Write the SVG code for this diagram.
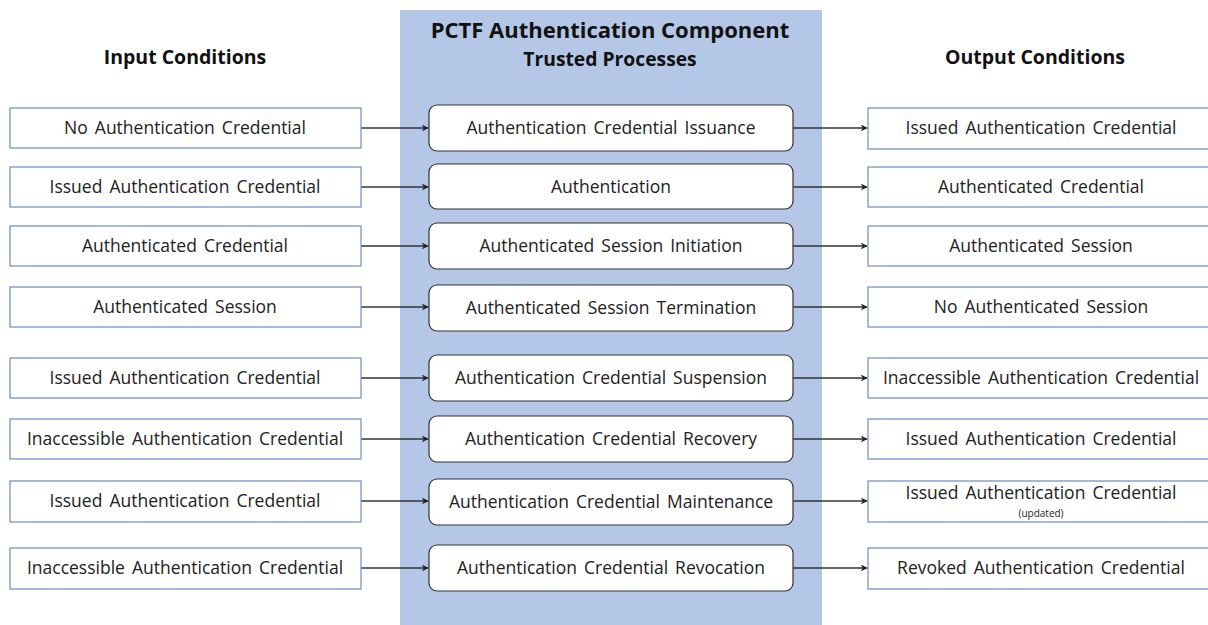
<svg xmlns="http://www.w3.org/2000/svg" width="1208" height="625" viewBox="0 0 1208 625">
<style>
.t{font-family:"Open Sans","Liberation Sans",sans-serif;font-size:17.5px;word-spacing:2.5px;fill:#222;text-anchor:middle;dominant-baseline:central}
.h{font-family:"Open Sans","Liberation Sans",sans-serif;font-weight:bold;fill:#111;text-anchor:middle}
.io{fill:#fff;stroke:#6d8cc4;stroke-width:1.2}
.p{fill:#fff;stroke:#333;stroke-width:1.2}
.c{stroke:#333;stroke-width:1.3;fill:none;marker-end:url(#ah)}
</style>
<defs>
<marker id="ah" viewBox="0 0 10 10" refX="9" refY="5" markerWidth="7" markerHeight="7" markerUnits="userSpaceOnUse" orient="auto">
<path d="M0,0 L10,5 L0,10 L3,5 Z" fill="#222"/>
</marker>
</defs>
<rect width="1208" height="625" fill="#fff"/>
<rect id="panel" x="400" y="10" width="422" height="615" fill="#b4c7e7"/>
<text class="h" x="610" y="38" font-size="22">PCTF Authentication Component</text>
<text class="h" x="610" y="66" font-size="19.3">Trusted Processes</text>
<text class="h" x="185" y="64" font-size="19.5">Input Conditions</text>
<text class="h" x="1035" y="64" font-size="19.5">Output Conditions</text>

<g id="connectors">
<line class="c" x1="361" y1="128" x2="428" y2="128"/>
<line class="c" x1="361" y1="187" x2="428" y2="187"/>
<line class="c" x1="361" y1="246" x2="428" y2="246"/>
<line class="c" x1="361" y1="307" x2="428" y2="307"/>
<line class="c" x1="361" y1="378" x2="428" y2="378"/>
<line class="c" x1="361" y1="439" x2="428" y2="439"/>
<line class="c" x1="361" y1="501" x2="428" y2="501"/>
<line class="c" x1="361" y1="568" x2="428" y2="568"/>
<line class="c" x1="793" y1="128" x2="867" y2="128"/>
<line class="c" x1="793" y1="187" x2="867" y2="187"/>
<line class="c" x1="793" y1="246" x2="867" y2="246"/>
<line class="c" x1="793" y1="307" x2="867" y2="307"/>
<line class="c" x1="793" y1="378" x2="867" y2="378"/>
<line class="c" x1="793" y1="439" x2="867" y2="439"/>
<line class="c" x1="793" y1="501" x2="867" y2="501"/>
<line class="c" x1="793" y1="568" x2="867" y2="568"/>
</g>

<g id="in1"><rect class="io" x="10" y="108" width="351" height="40"/><text class="t" x="185" y="127">No Authentication Credential</text></g>
<g id="in2"><rect class="io" x="10" y="167" width="351" height="40"/><text class="t" x="185" y="186">Issued Authentication Credential</text></g>
<g id="in3"><rect class="io" x="10" y="226" width="351" height="40"/><text class="t" x="185" y="245">Authenticated Credential</text></g>
<g id="in4"><rect class="io" x="10" y="287" width="351" height="40"/><text class="t" x="185" y="306">Authenticated Session</text></g>
<g id="in5"><rect class="io" x="10" y="358" width="351" height="40"/><text class="t" x="185" y="377">Issued Authentication Credential</text></g>
<g id="in6"><rect class="io" x="10" y="419" width="351" height="40"/><text class="t" x="185" y="438">Inaccessible Authentication Credential</text></g>
<g id="in7"><rect class="io" x="10" y="481" width="351" height="41"/><text class="t" x="185" y="500">Issued Authentication Credential</text></g>
<g id="in8"><rect class="io" x="10" y="548" width="351" height="41"/><text class="t" x="185" y="567">Inaccessible Authentication Credential</text></g>

<g id="p1"><rect class="p" x="429" y="105" width="364" height="46" rx="8"/><text class="t" x="611" y="127">Authentication Credential Issuance</text></g>
<g id="p2"><rect class="p" x="429" y="164" width="364" height="45" rx="8"/><text class="t" x="611" y="186">Authentication</text></g>
<g id="p3"><rect class="p" x="429" y="223" width="364" height="46" rx="8"/><text class="t" x="611" y="245">Authenticated Session Initiation</text></g>
<g id="p4"><rect class="p" x="429" y="285" width="364" height="46" rx="8"/><text class="t" x="611" y="307">Authenticated Session Termination</text></g>
<g id="p5"><rect class="p" x="429" y="355" width="364" height="46" rx="8"/><text class="t" x="611" y="377">Authentication Credential Suspension</text></g>
<g id="p6"><rect class="p" x="429" y="416" width="364" height="46" rx="8"/><text class="t" x="611" y="438">Authentication Credential Recovery</text></g>
<g id="p7"><rect class="p" x="429" y="479" width="364" height="46" rx="8"/><text class="t" x="611" y="501">Authentication Credential Maintenance</text></g>
<g id="p8"><rect class="p" x="429" y="545" width="364" height="46" rx="8"/><text class="t" x="611" y="567">Authentication Credential Revocation</text></g>

<g id="out1"><rect class="io" x="868" y="108" width="345" height="41"/><text class="t" x="1041" y="127">Issued Authentication Credential</text></g>
<g id="out2"><rect class="io" x="868" y="167" width="345" height="40"/><text class="t" x="1041" y="186">Authenticated Credential</text></g>
<g id="out3"><rect class="io" x="868" y="226" width="345" height="40"/><text class="t" x="1041" y="245">Authenticated Session</text></g>
<g id="out4"><rect class="io" x="868" y="287" width="345" height="40"/><text class="t" x="1041" y="306">No Authenticated Session</text></g>
<g id="out5"><rect class="io" x="868" y="358" width="345" height="40"/><text class="t" x="1041" y="377">Inaccessible Authentication Credential</text></g>
<g id="out6"><rect class="io" x="868" y="419" width="345" height="40"/><text class="t" x="1041" y="438">Issued Authentication Credential</text></g>
<g id="out7"><rect class="io" x="868" y="481" width="345" height="41"/><text class="t" x="1041" y="492">Issued Authentication Credential</text><text class="t" x="1041" y="513" style="font-size:10px;word-spacing:0">(updated)</text></g>
<g id="out8"><rect class="io" x="868" y="548" width="345" height="41"/><text class="t" x="1041" y="567">Revoked Authentication Credential</text></g>
</svg>
